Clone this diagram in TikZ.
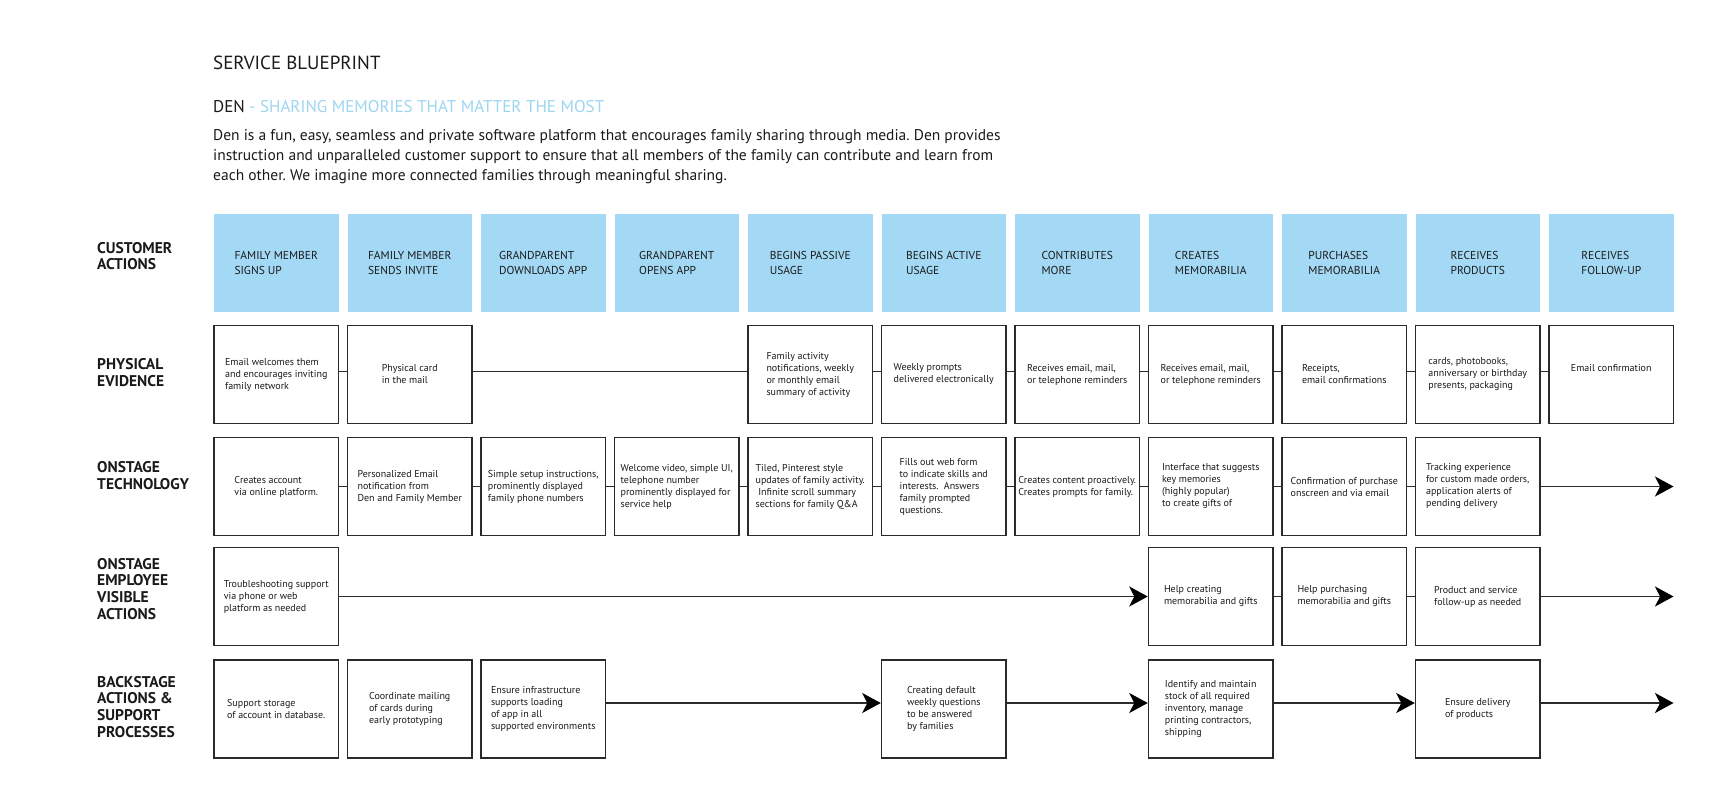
\documentclass[tikz,border=0pt]{standalone}
\usepackage{fontspec}
\setmainfont{PT Sans}
\usetikzlibrary{arrows.meta}
\definecolor{cablue}{HTML}{A4D9F5}
\definecolor{subblue}{HTML}{9ED6F2}
\definecolor{boxline}{HTML}{2A2A2A}
\definecolor{txt}{HTML}{1A1A1A}
\newcommand\bpbox{\fontsize{10}{12}\selectfont}
\newcommand\bpca{\fontsize{11.5}{14.5}\selectfont}
\newcommand\bplbl{\fontsize{15.5}{16.7}\selectfont\bfseries}
\begin{document}
\frenchspacing
\begin{tikzpicture}[x=1pt,y=-1pt,
  ca/.style={fill=cablue, draw=none, minimum width=124.5pt, minimum height=98pt, inner sep=0pt, align=left, font=\bpca, text=txt},
  ev/.style={draw=boxline, line width=1.5pt, fill=white, minimum width=124.5pt, minimum height=98pt, inner sep=0pt, align=left, font=\bpbox, text=txt},
  lbl/.style={anchor=west, align=left, font=\bplbl, inner sep=0pt, text=txt},
  link/.style={draw=boxline, line width=1.5pt},
  flow/.style={link, -{Stealth[length=18.5pt,width=20pt,inset=5pt,color=black]}}]
\useasboundingbox (0,0) rectangle (1732,806);
\fill[white] (0,0) rectangle (1732,806);

% header
\node[anchor=west, inner sep=0pt, font=\fontsize{19}{21}\selectfont, text=txt] (title) at (213,63) {SERVICE BLUEPRINT};
\node[anchor=west, inner sep=0pt, font=\fontsize{17}{20}\selectfont, text=txt] (sub) at (213,107) {DEN {\color{subblue}- SHARING MEMORIES THAT MATTER THE MOST}};
\node[anchor=west, inner sep=0pt, align=left, font=\fontsize{15.5}{19.8}\selectfont, text=txt] (desc) at (213,156.5) {Den is a fun, easy, seamless and private software platform that encourages family sharing through media. Den provides\\instruction and unparalleled customer support to ensure that all members of the family can contribute and learn from\\each other. We imagine more connected families through meaningful sharing.};

% row labels
\node[lbl] (l1) at (97,256) {CUSTOMER\\ACTIONS};
\node[lbl] (l2) at (97,372.3) {PHYSICAL\\EVIDENCE};
\node[lbl] (l3) at (97,475.7) {ONSTAGE\\TECHNOLOGY};
\node[lbl] (l4) at (97,588.7) {ONSTAGE\\EMPLOYEE\\VISIBLE\\ACTIONS};
\node[lbl] (l5) at (97,706.7) {BACKSTAGE\\ACTIONS \&\\SUPPORT\\PROCESSES};

% customer actions (row y = 263)
\node[ca] (c0) at (276.25,263) {FAMILY MEMBER\\SIGNS UP};
\node[ca] (c1) at (409.75,263) {FAMILY MEMBER\\SENDS INVITE};
\node[ca] (c2) at (543.25,263) {GRANDPARENT\\DOWNLOADS APP};
\node[ca] (c3) at (676.75,263) {GRANDPARENT\\OPENS APP};
\node[ca] (c4) at (810.25,263) {BEGINS PASSIVE\\USAGE};
\node[ca] (c5) at (943.75,263) {BEGINS ACTIVE\\USAGE};
\node[ca] (c6) at (1077.25,263) {CONTRIBUTES\\MORE};
\node[ca] (c7) at (1210.75,263) {CREATES\\MEMORABILIA};
\node[ca] (c8) at (1344.25,263) {PURCHASES\\MEMORABILIA};
\node[ca] (c9) at (1477.75,263) {RECEIVES\\PRODUCTS};
\node[ca] (c10) at (1611.25,263) {RECEIVES\\FOLLOW-UP};

% physical evidence (row y = 374.5)
\node[ev] (p0) at (276.25,374.5) {Email welcomes them\\and encourages inviting\\family network};
\node[ev] (p1) at (409.75,374.5) {Physical card\\in the mail};
\node[ev] (p4) at (810.25,374.5) {Family activity\\notifications, weekly\\or monthly email\\summary of activity};
\node[ev] (p5) at (943.75,374.5) {Weekly prompts\\delivered electronically};
\node[ev] (p6) at (1077.25,374.5) {Receives email, mail,\\or telephone reminders};
\node[ev] (p7) at (1210.75,374.5) {Receives email, mail,\\or telephone reminders};
\node[ev] (p8) at (1344.25,374.5) {Receipts,\\email confirmations};
\node[ev] (p9) at (1477.75,374.5) {cards, photobooks,\\anniversary or birthday\\presents, packaging};
\node[ev, text depth=14pt] (p10) at (1611.25,374.5) {Email confirmation};

% onstage technology (row y = 486.5)
\node[ev] (t0) at (276.25,486.5) {Creates account\\via online platform.};
\node[ev] (t1) at (409.75,486.5) {Personalized Email\\notification from\\Den and Family Member};
\node[ev] (t2) at (543.25,486.5) {Simple setup instructions,\\prominently displayed\\family phone numbers};
\node[ev] (t3) at (676.75,486.5) {Welcome video, simple UI,\\telephone number\\prominently displayed for\\service help};
\node[ev] (t4) at (810.25,486.5) {Tiled, Pinterest style\\updates of family activity.\\\ Infinite scroll summary\\sections for family Q\&A};
\node[ev] (t5) at (943.75,486.5) {Fills out web form\\to indicate skills and\\interests.\ \ Answers\\family prompted\\questions.};
\node[ev] (t6) at (1077.25,486.5) {Creates content proactively.\\Creates prompts for family.};
\node[ev] (t7) at (1210.75,486.5) {Interface that suggests\\key memories\\(highly popular)\\to create gifts of};
\node[ev] (t8) at (1344.25,486.5) {Confirmation of purchase\\onscreen and via email};
\node[ev] (t9) at (1477.75,486.5) {Tracking experience\\for custom made orders,\\application alerts of\\pending delivery};
\coordinate (tend) at (1673.5,486.5);

% onstage employee (row y = 596.5)
\node[ev] (e0) at (276.25,596.5) {Troubleshooting support\\via phone or web\\platform as needed};
\node[ev] (e7) at (1210.75,596.5) {Help creating\\memorabilia and gifts};
\node[ev] (e8) at (1344.25,596.5) {Help purchasing\\memorabilia and gifts};
\node[ev] (e9) at (1477.75,596.5) {Product and service\\follow-up as needed};
\coordinate (eend) at (1673.5,596.5);

% backstage (row y = 709)
\node[ev] (b0) at (276.25,709) {Support storage\\of account in database.};
\node[ev] (b1) at (409.75,709) {Coordinate mailing\\of cards during\\early prototyping};
\node[ev] (b2) at (543.25,709) {Ensure infrastructure\\supports loading\\of app in all\\supported environments};
\node[ev] (b5) at (943.75,709) {Creating default\\weekly questions\\to be answered\\by families};
\node[ev] (b7) at (1210.75,709) {Identify and maintain\\stock of all required\\inventory, manage\\printing contractors,\\shipping};
\node[ev] (b9) at (1477.75,709) {Ensure delivery\\of products};
\coordinate (bend) at (1673.5,703);

% physical links
\draw[link] ([yshift=3pt]p0.east) -- ([yshift=3pt]p1.west);
\draw[link] ([yshift=3pt]p1.east) -- ([yshift=3pt]p4.west);
\draw[link] ([yshift=3pt]p4.east) -- ([yshift=3pt]p5.west);
\draw[link] ([yshift=3pt]p5.east) -- ([yshift=3pt]p6.west);
\draw[link] ([yshift=3pt]p6.east) -- ([yshift=3pt]p7.west);
\draw[link] ([yshift=3pt]p7.east) -- ([yshift=3pt]p8.west);
\draw[link] ([yshift=3pt]p8.east) -- ([yshift=3pt]p9.west);
\draw[link] ([yshift=3pt]p9.east) -- ([yshift=3pt]p10.west);

% technology links
\draw[link] (t0) -- (t1);
\draw[link] (t1) -- (t2);
\draw[link] (t2) -- (t3);
\draw[link] (t3) -- (t4);
\draw[link] (t4) -- (t5);
\draw[link] (t5) -- (t6);
\draw[link] (t6) -- (t7);
\draw[link] (t7) -- (t8);
\draw[link] (t8) -- (t9);
\draw[flow] (t9.east) -- (tend);

% employee links
\draw[flow] (e0.east) -- (e7.west);
\draw[link] (e7) -- (e8);
\draw[link] (e8) -- (e9);
\draw[flow] (e9.east) -- (eend);

% backstage links
\draw[flow] ([yshift=6pt]b2.east) -- ([yshift=6pt]b5.west);
\draw[flow] ([yshift=6pt]b5.east) -- ([yshift=6pt]b7.west);
\draw[flow] ([yshift=6pt]b7.east) -- ([yshift=6pt]b9.west);
\draw[flow] ([yshift=6pt]b9.east) -- (bend);
\end{tikzpicture}
\end{document}
